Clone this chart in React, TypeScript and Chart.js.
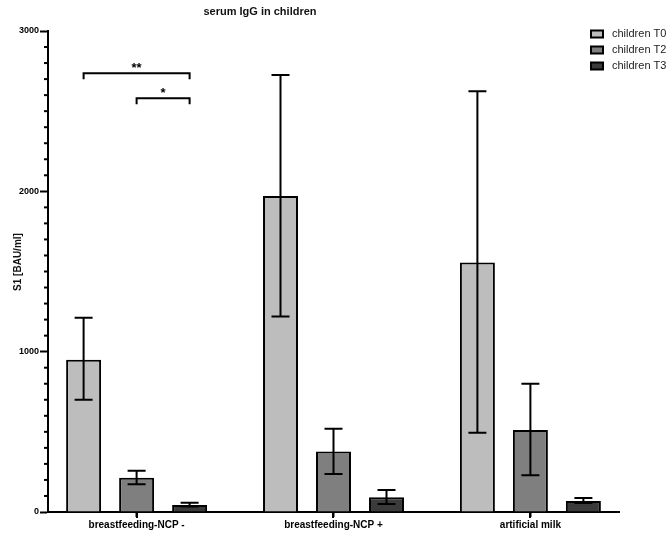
import React, { useEffect, useRef } from 'react';
import { Chart, registerables } from 'chart.js';

Chart.register(...registerables);

const categories = ['breastfeeding-NCP -', 'breastfeeding-NCP +', 'artificial milk'];
const seriesNames = ['children T0', 'children T2', 'children T3'];

const t0Mean = [950, 1971, 1556];
const t0Low = [700, 1219, 494];
const t0High = [1212, 2725, 2625];

const t2Mean = [214, 377, 512];
const t2Low = [173, 237, 229];
const t2High = [258, 519, 800];

const t3Mean = [44, 92, 69];
const t3Low = [35, 50, 56];
const t3High = [58, 137, 87];

const seriesColors = ['#bdbdbd', '#7f7f7f', '#3b3b3b'];

const yMajorTicks = [0, 1000, 2000, 3000];
const yMinorStep = 100;

// significance brackets: group index, from series, to series, height (BAU/ml), label
const bracketGroup = [0, 0];
const bracketFrom = [0, 1];
const bracketTo = [2, 2];
const bracketLevel = [2737, 2581];
const bracketLabel = ['**', '*'];

const titleText = 'serum IgG in children';
const yTitleText = 'S1 [BAU/ml]';

const FONT = "'Liberation Sans', Arial, Helvetica, sans-serif";

const means = [t0Mean, t2Mean, t3Mean];
const lows = [t0Low, t2Low, t3Low];
const highs = [t0High, t2High, t3High];

const decorPlugin = {
  id: 'decor',
  afterDatasetsDraw(chart: any) {
    const ctx = chart.ctx;
    const y = chart.scales.y;
    ctx.save();
    // error bars
    ctx.strokeStyle = '#000';
    ctx.lineWidth = 2;
    for (let d = 0; d < 3; d++) {
      const meta = chart.getDatasetMeta(d);
      meta.data.forEach((el: any, j: number) => {
        const x = el.x;
        const yHi = y.getPixelForValue(highs[d][j]);
        const yLo = y.getPixelForValue(lows[d][j]);
        ctx.beginPath();
        ctx.moveTo(x, yHi);
        ctx.lineTo(x, yLo);
        ctx.moveTo(x - 9, yHi);
        ctx.lineTo(x + 9, yHi);
        ctx.moveTo(x - 9, yLo);
        ctx.lineTo(x + 9, yLo);
        ctx.stroke();
      });
    }
    // brackets
    for (let b = 0; b < bracketLabel.length; b++) {
      const g = bracketGroup[b];
      const x1 = chart.getDatasetMeta(bracketFrom[b]).data[g].x;
      const x2 = chart.getDatasetMeta(bracketTo[b]).data[g].x;
      const yy = y.getPixelForValue(bracketLevel[b]);
      ctx.beginPath();
      ctx.moveTo(x1, yy + 6);
      ctx.lineTo(x1, yy);
      ctx.lineTo(x2, yy);
      ctx.lineTo(x2, yy + 6);
      ctx.stroke();
      ctx.fillStyle = '#000';
      ctx.font = `bold 13px ${FONT}`;
      ctx.textAlign = 'center';
      ctx.textBaseline = 'alphabetic';
      ctx.fillText(bracketLabel[b], (x1 + x2) / 2, yy - 1);
    }
    ctx.restore();
  },
  afterDraw(chart: any) {
    const ctx = chart.ctx;
    const y = chart.scales.y;
    const x = chart.scales.x;
    const area = chart.chartArea;
    ctx.save();
    // minor y ticks
    ctx.strokeStyle = '#000';
    ctx.lineWidth = 2;
    for (let v = yMinorStep; v < 3000; v += yMinorStep) {
      if (yMajorTicks.includes(v)) continue;
      const py = y.getPixelForValue(v);
      ctx.beginPath();
      ctx.moveTo(area.left - 4, py);
      ctx.lineTo(area.left, py);
      ctx.stroke();
    }
    // x category ticks
    categories.forEach((_, j) => {
      const px = Math.round(x.getPixelForValue(j));
      ctx.beginPath();
      ctx.moveTo(px, area.bottom);
      ctx.lineTo(px, area.bottom + 6);
      ctx.stroke();
    });
    // title
    ctx.fillStyle = '#111';
    ctx.font = `bold 11px ${FONT}`;
    ctx.textAlign = 'center';
    ctx.textBaseline = 'middle';
    ctx.fillText(titleText, 260, 12);
    // y title
    ctx.save();
    ctx.translate(18, 262);
    ctx.rotate(-Math.PI / 2);
    ctx.font = `bold 10px ${FONT}`;
    ctx.fillText(yTitleText, 0, 0);
    ctx.restore();
    // legend
    for (let i = 0; i < seriesNames.length; i++) {
      const cy = 34 + i * 16;
      ctx.fillStyle = seriesColors[i];
      ctx.fillRect(591, cy - 3.5, 12, 7);
      ctx.lineWidth = 2;
      ctx.strokeStyle = '#000';
      ctx.strokeRect(591, cy - 3.5, 12, 7);
      ctx.fillStyle = '#222';
      ctx.font = `11px ${FONT}`;
      ctx.textAlign = 'left';
      ctx.textBaseline = 'middle';
      ctx.fillText(seriesNames[i], 612, cy);
    }
    ctx.restore();
  },
};

export default function App() {
  const ref = useRef<HTMLCanvasElement>(null);
  useEffect(() => {
    document.body.style.margin = '0';
    const chart = new Chart(ref.current as HTMLCanvasElement, {
      type: 'bar',
      data: {
        datasets: seriesNames.map((name, d) => ({
          label: name,
          data: categories.map((_, j) => ({ x: j, y: means[d][j] })),
          backgroundColor: seriesColors[d],
          borderColor: '#000',
          borderWidth: 2,
          categoryPercentage: 0.8075,
          barPercentage: 0.66,
        })),
      },
      options: {
        animation: false,
        responsive: false,
        maintainAspectRatio: false,
        layout: { padding: { top: 31, right: 50, left: 0, bottom: 0 } },
        plugins: { legend: { display: false }, title: { display: false }, tooltip: { enabled: false } },
        scales: {
          x: {
            type: 'linear',
            min: -0.45,
            max: 2.45,
            offset: false,
            afterBuildTicks: (s: any) => {
              s.ticks = categories.map((_, j) => ({ value: j }));
            },
            afterFit: (s: any) => {
              s.height = 23;
            },
            grid: { offset: false, drawOnChartArea: false, drawTicks: true, tickLength: 5, tickWidth: 2, tickColor: '#000' },
            border: { display: true, color: '#000', width: 2 },
            ticks: {
              autoSkip: false,
              maxRotation: 0,
              padding: 2,
              color: '#000',
              font: { family: FONT, size: 10, weight: 'bold' },
              callback: (v: any) => categories[v] ?? '',
            },
          },
          y: {
            min: 0,
            max: 3000,
            afterBuildTicks: (s: any) => {
              s.ticks = yMajorTicks.map((v) => ({ value: v }));
            },
            afterFit: (s: any) => {
              s.width = 48;
            },
            grid: { drawOnChartArea: false, drawTicks: true, tickLength: 8, tickWidth: 2, tickColor: '#000' },
            border: { display: true, color: '#000', width: 2 },
            ticks: {
              padding: 1,
              color: '#000',
              font: { family: FONT, size: 9, weight: 'bold' },
              callback: (v: any) => String(v),
            },
          },
        },
      },
      plugins: [decorPlugin],
    } as any);
    return () => chart.destroy();
  }, []);
  return (
    <div style={{ position: 'absolute', left: 0, top: 0, width: 669, height: 535, background: '#fff' }}>
      <canvas ref={ref} width={669} height={535} style={{ width: 669, height: 535 }} />
    </div>
  );
}
